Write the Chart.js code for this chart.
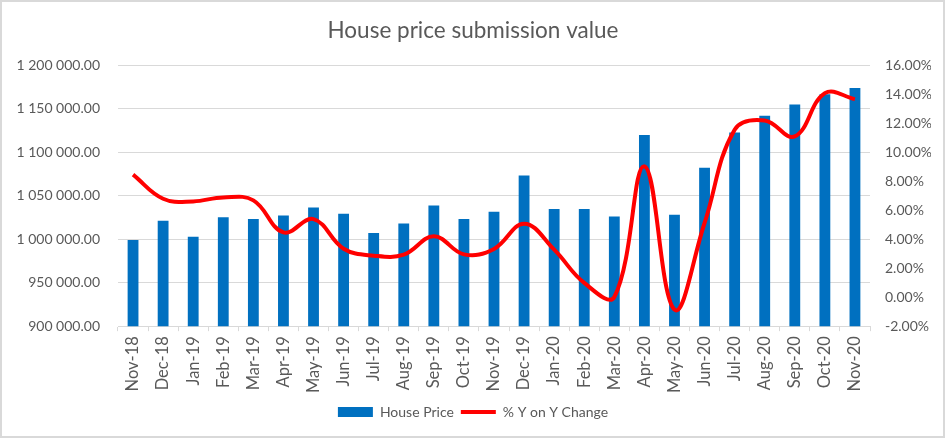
<!DOCTYPE html>
<html>
<head>
<meta charset="utf-8">
<script src="https://cdn.jsdelivr.net/npm/chart.js@4.4.1/dist/chart.umd.min.js"></script>
<style>
  html, body { margin: 0; padding: 0; background: #fff; }
  #wrap { position: relative; width: 941px; height: 434px; border: 2px solid #d9d9d9; }
</style>
</head>
<body>
<div id="wrap"><canvas id="c" width="941" height="434"></canvas></div>
<script>
const categories = ["Nov-18","Dec-18","Jan-19","Feb-19","Mar-19","Apr-19","May-19","Jun-19","Jul-19","Aug-19","Sep-19","Oct-19","Nov-19","Dec-19","Jan-20","Feb-20","Mar-20","Apr-20","May-20","Jun-20","Jul-20","Aug-20","Sep-20","Oct-20","Nov-20"];
const housePrice = [999000, 1021000, 1002800, 1025000, 1023000, 1027000, 1036400, 1029000, 1007000, 1018000, 1038700, 1023000, 1031500, 1073200, 1034500, 1034500, 1026000, 1119500, 1028000, 1082000, 1122600, 1141800, 1154500, 1166300, 1173600];
const yoyChange = [8.44, 6.78, 6.60, 6.87, 6.67, 4.46, 5.38, 3.34, 2.86, 2.93, 4.19, 2.95, 3.32, 5.06, 3.27, 0.98, 0.01, 9.01, -0.86, 5.11, 11.54, 12.18, 11.08, 14.06, 13.65];
const seriesNames = ["House Price", "% Y on Y Change"];
const chartTitle = "House price submission value";

const FONT = "Lato, 'Open Sans', sans-serif";
const TXT = "#595959";
const GRID = "#d9d9d9";

function fmtMoney(v) {
  const s = Math.round(v).toString().replace(/\B(?=(\d{3})+(?!\d))/g, " ");
  return s + ".00";
}

new Chart(document.getElementById("c"), {
  data: {
    labels: categories,
    datasets: [
      {
        type: "bar",
        label: seriesNames[0],
        data: housePrice,
        backgroundColor: "#0070C0",
        borderWidth: 0,
        yAxisID: "y",
        categoryPercentage: 0.36,
        barPercentage: 1,
        order: 1,
        pointStyle: "rect"
      },
      {
        type: "line",
        label: seriesNames[1],
        data: yoyChange,
        borderColor: "#FF0000",
        backgroundColor: "#FF0000",
        borderWidth: 4,
        pointRadius: 0,
        tension: 0.4,
        fill: false,
        yAxisID: "y1",
        order: 0,
        pointStyle: "line"
      }
    ]
  },
  options: {
    responsive: false,
    animation: false,
    devicePixelRatio: 1,
    layout: { padding: { left: 13, right: 12, top: 0, bottom: 7 } },
    plugins: {
      title: {
        display: true,
        text: chartTitle,
        color: TXT,
        font: { family: FONT, size: 22.5, weight: "normal" },
        padding: { top: 15, bottom: 21 }
      },
      legend: {
        position: "bottom",
        labels: {
          color: TXT,
          font: { family: FONT, size: 14 },
          usePointStyle: true,
          pointStyleWidth: 35,
          boxHeight: 10,
          padding: 7,
          sort: (a, b) => a.datasetIndex - b.datasetIndex
        }
      },
      tooltip: { enabled: false }
    },
    scales: {
      x: {
        grid: { display: true, drawOnChartArea: false, drawTicks: true, tickLength: 5, color: GRID, offset: true },
        border: { display: true, color: GRID },
        ticks: {
          color: TXT,
          font: { family: FONT, size: 16.5 },
          minRotation: 90,
          maxRotation: 90,
          autoSkip: false,
          padding: 5
        },
        afterFit: (scale) => { scale.paddingLeft = 0; scale.paddingRight = 0; }
      },
      y: {
        position: "left",
        min: 900000,
        max: 1200000,
        grid: { color: GRID, drawTicks: false, lineWidth: 1 },
        border: { display: false },
        ticks: {
          stepSize: 50000,
          color: TXT,
          font: { family: FONT, size: 14 },
          padding: 18,
          callback: v => fmtMoney(v)
        },
        afterFit: (scale) => { scale.width = 103; }
      },
      y1: {
        position: "right",
        min: -2,
        max: 16,
        grid: { display: false, drawTicks: false },
        border: { display: false },
        ticks: {
          stepSize: 2,
          color: TXT,
          font: { family: FONT, size: 14 },
          padding: 15,
          callback: v => v.toFixed(2) + "%"
        },
        afterFit: (scale) => { scale.width = 61; }
      }
    }
  }
});
</script>
</body>
</html>
